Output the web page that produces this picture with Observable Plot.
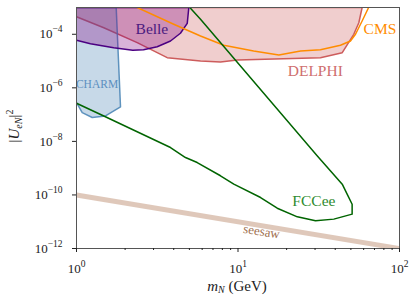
<!DOCTYPE html>
<html>
<head>
<meta charset="utf-8">
<script src="https://cdn.jsdelivr.net/npm/d3@7"></script>
<script src="https://cdn.jsdelivr.net/npm/@observablehq/plot@0.6"></script>
<style>
  html, body { margin: 0; padding: 0; background: #fff; }
  svg { display: block; }
</style>
</head>
<body>
<div id="chart"></div>
<script>
// ---- data ----
const charmM = [1.0, 1.085, 1.251, 1.512, 1.873, 1.761, 1.0];
const charmU = [2.8e-7, 1.19e-7, 7.8e-8, 8.9e-8, 1.94e-7, 1e-3, 1e-3];

const belleM = [1.0, 1.22, 1.70, 2.23, 2.6, 3.16, 3.82, 4.40, 4.85, 4.96, 1.0];
const belleU = [5.97e-5, 4.46e-5, 3.16e-5, 2.55e-5, 2.65e-5, 3.44e-5, 5.6e-5, 1.09e-4, 2.57e-4, 1e-3, 1e-3];

const delphiM = [1.0, 1.476, 2.376, 3.645, 5.86, 7.79, 9.89, 32.4, 44.2, 52.1, 56.0, 58.7, 1.0];
const delphiU = [4.54e-4, 1.76e-4, 4.87e-5, 1.34e-5, 1.01e-5, 9.25e-6, 1.1e-5, 1.34e-5, 2.06e-5, 1e-4, 2.7e-4, 1e-3, 1e-3];

const cmsM = [2.376, 4.0, 5.86, 8.17, 12.5, 17.9, 24.4, 32.4, 43.1, 49.7, 53.4, 58.7, 64.5];
const cmsU = [1e-3, 2.36e-4, 8.6e-5, 3.9e-5, 2.38e-5, 1.69e-5, 2.38e-5, 2.66e-5, 3.9e-5, 5.6e-5, 1e-4, 3.13e-4, 1.02e-3];

const fccM = [1.0, 1.476, 3.82, 4.73, 5.59, 7.79, 9.42, 13.8, 17.5, 23.3, 30.2, 39.2, 50.9, 50.9, 47.4, 44.2, 30.9, 5.86, 5.03];
const fccU = [2.66e-7, 8.9e-8, 5.9e-9, 2.49e-9, 1.62e-9, 5.2e-10, 2.53e-10, 8.0e-11, 3.2e-11, 1.52e-11, 1.08e-11, 1.25e-11, 1.92e-11, 4.5e-11, 1.07e-10, 2.53e-10, 2.88e-9, 3.63e-4, 1e-3];

const seesawM = [1, 100];
const seesawU = [1e-10, 1e-12];

const xMajor = [1, 10, 100];
const xMajorLabels = ["10^0", "10^1", "10^2"];
const xMinor = [2, 3, 4, 5, 6, 7, 8, 9, 20, 30, 40, 50, 60, 70, 80, 90];
const yMajor = [1e-12, 1e-10, 1e-8, 1e-6, 1e-4];
const yMajorLabels = ["10^−12", "10^−10", "10^−8", "10^−6", "10^−4"];

const labels = [
  {text: "Belle", m: 2.93, u: 1.58e-4, color: "#4b1a7f", size: 15.5, rotate: 0},
  {text: "CHARM", m: 1.34, u: 1.3e-6, color: "#5b8fc0", size: 11.5, rotate: 0},
  {text: "DELPHI", m: 30.1, u: 4.1e-6, color: "#cf6e6e", size: 15.5, rotate: 0},
  {text: "CMS", m: 75.7, u: 1.51e-4, color: "#ff8c00", size: 15.5, rotate: 0},
  {text: "FCCee", m: 29.5, u: 5.8e-11, color: "#2e8b2e", size: 15.5, rotate: 0},
  {text: "seesaw", m: 14.0, u: 4.3e-12, color: "#a0704f", size: 13, rotate: 9}
];

const toRows = (ms, us) => ms.map((m, i) => ({m, u: us[i]}));
const xLab = new Map(xMajor.map((v, i) => [v, xMajorLabels[i]]));
const yLab = new Map(yMajor.map((v, i) => [v, yMajorLabels[i]]));
const lookup = (map) => (d) => {
  for (const [k, v] of map) if (Math.abs(Math.log10(k) - Math.log10(d)) < 1e-6) return v;
  return "";
};

const font = "'Liberation Serif', 'DejaVu Serif', serif";

const plot = Plot.plot({
  width: 416,
  height: 302,
  marginLeft: 76,
  marginRight: 17,
  marginTop: 7,
  marginBottom: 54,
  style: {fontFamily: font, fontSize: "13px", background: "#fff", color: "#222"},
  x: {type: "log", domain: [1, 100]},
  y: {type: "log", domain: [1e-12, 1e-3]},
  marks: [
    Plot.line(toRows(delphiM, delphiU), {x: "m", y: "u", fill: "indianred", fillOpacity: 0.3, stroke: "indianred", strokeWidth: 1.5, clip: true}),
    Plot.line(toRows(charmM, charmU), {x: "m", y: "u", fill: "steelblue", fillOpacity: 0.3, stroke: "steelblue", strokeOpacity: 0.85, strokeWidth: 1.5, clip: true}),
    Plot.line(toRows(belleM, belleU), {x: "m", y: "u", fill: "purple", fillOpacity: 0.3, stroke: "indigo", strokeWidth: 1.5, clip: true}),
    Plot.line(toRows(cmsM, cmsU), {x: "m", y: "u", stroke: "darkorange", strokeWidth: 1.5, clip: true}),
    Plot.line(toRows(fccM, fccU), {x: "m", y: "u", stroke: "darkgreen", strokeWidth: 1.5, clip: true}),
    Plot.line(toRows(seesawM, seesawU), {x: "m", y: "u", stroke: "#c9a48c", strokeOpacity: 0.6, strokeWidth: 5, clip: true}),
    ...labels.map(l => Plot.text([l], {x: "m", y: "u", text: "text", fill: l.color, fontSize: l.size, rotate: l.rotate, textAnchor: "middle"})),
    Plot.frame({stroke: "#555", strokeWidth: 1}),
    Plot.axisX({ticks: xMajor, tickSize: 4, tickPadding: 11, tickFormat: lookup(xLab), label: null, stroke: "#222"}),
    Plot.axisX({ticks: xMinor, tickSize: 2, tickFormat: () => "", label: null, stroke: "#222"}),
    Plot.axisY({ticks: yMajor, tickSize: 4, tickPadding: 10, tickFormat: lookup(yLab), label: null, stroke: "#222"})
  ]
});

const svg = d3.select(plot);
// superscript exponents in tick labels
svg.selectAll("text").each(function() {
  const t = d3.select(this);
  const s = t.text();
  if (s.indexOf("^") < 0) return;
  const [b, e] = s.split("^");
  t.text(null);
  t.append("tspan").text(b);
  t.append("tspan").attr("font-size", 9.5).attr("dy", -6).text(e);
});

// axis titles with sub/superscripts
const xl = svg.append("text")
  .attr("x", 237).attr("y", 290.5)
  .attr("text-anchor", "middle")
  .attr("font-family", font).attr("font-size", 15).attr("fill", "#222");
xl.append("tspan").attr("font-style", "italic").text("m");
xl.append("tspan").attr("font-style", "italic").attr("font-size", 10).attr("dy", 2.5).text("N");
xl.append("tspan").attr("dy", -2.5).text(" (GeV)");

const yl = svg.append("text")
  .attr("transform", "translate(19,126) rotate(-90)")
  .attr("text-anchor", "middle")
  .attr("font-family", font).attr("font-size", 15).attr("fill", "#222");
yl.append("tspan").text("|");
yl.append("tspan").attr("font-style", "italic").text("U");
yl.append("tspan").attr("font-style", "italic").attr("font-size", 10).attr("dy", 2.5).text("eN");
yl.append("tspan").attr("dy", -2.5).text("|");
yl.append("tspan").attr("font-size", 10).attr("dy", -6).text("2");

document.getElementById("chart").appendChild(plot);
</script>
</body>
</html>
